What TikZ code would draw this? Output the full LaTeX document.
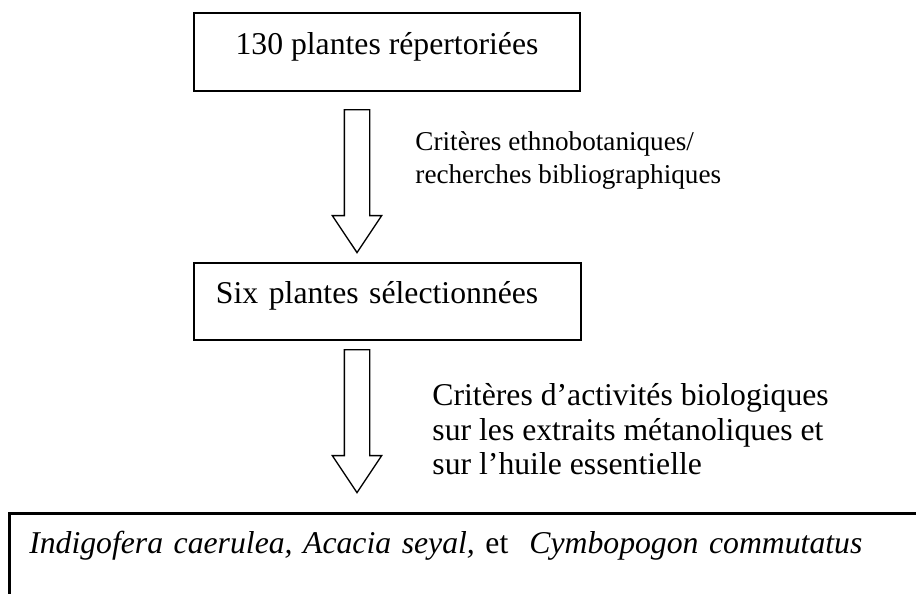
\documentclass[tikz,border=0pt]{standalone}
\usepackage{fontspec}
\setmainfont{Liberation Serif}
\usetikzlibrary{shapes.arrows}

\begin{document}
\begin{tikzpicture}[x=0.4415pt, y=-0.4415pt,
  stagebox/.style={draw, line width=0.9pt, inner sep=0pt, font=\fontsize{14}{16}\selectfont},
  critlabel/.style={anchor=base west, align=left, inner sep=0pt},
  blockarr/.style={single arrow, draw, line width=0.6pt, rotate=-90, anchor=tail, minimum height=63.1pt,
    minimum width=0pt, inner sep=5.3pt, single arrow head extend=5.3pt, single arrow tip angle=67.4}]

  \useasboundingbox (0,0) rectangle (916,593);
  \clip (0,0) rectangle (916,593);

  % first stage
  \node[stagebox, minimum width=170.4pt, text height=18.1pt, text depth=16.3pt] (inventaire)
    at (387,52) {130 plantes répertoriées};

  % first selection step (label anchored on its last line)
  \node[blockarr] (tri1) at (357,109) {};
  \node[critlabel, font=\fontsize{12}{14.4}\selectfont] (critethno) at (415,183.5)
    {Critères ethnobotaniques/\\recherches bibliographiques};

  % second stage, text kept to the left
  \node[stagebox, anchor=north west, text width=151.4pt, inner xsep=9.7pt, text height=17.7pt,
    text depth=16.3pt] (selection) at (193,262) {Six plantes sélectionnées};

  % second selection step
  \node[blockarr] (tri2) at (357,349) {};
  \node[critlabel, font=\fontsize{14}{15.2}\selectfont] (critbio) at (432,474.5)
    {Critères d’activités biologiques\\sur les extraits métanoliques et\\sur l’huile essentielle};

  % retained plants, box runs off the page
  \node[stagebox, anchor=north west, line width=1.2pt, inner xsep=8.8pt, text width=441pt,
    text height=17.7pt, text depth=26.5pt] (retenues) at (8,512)
    {\textit{Indigofera caerulea, Acacia seyal,} et\ \ \textit{Cymbopogon commutatus}};

\end{tikzpicture}
\end{document}
